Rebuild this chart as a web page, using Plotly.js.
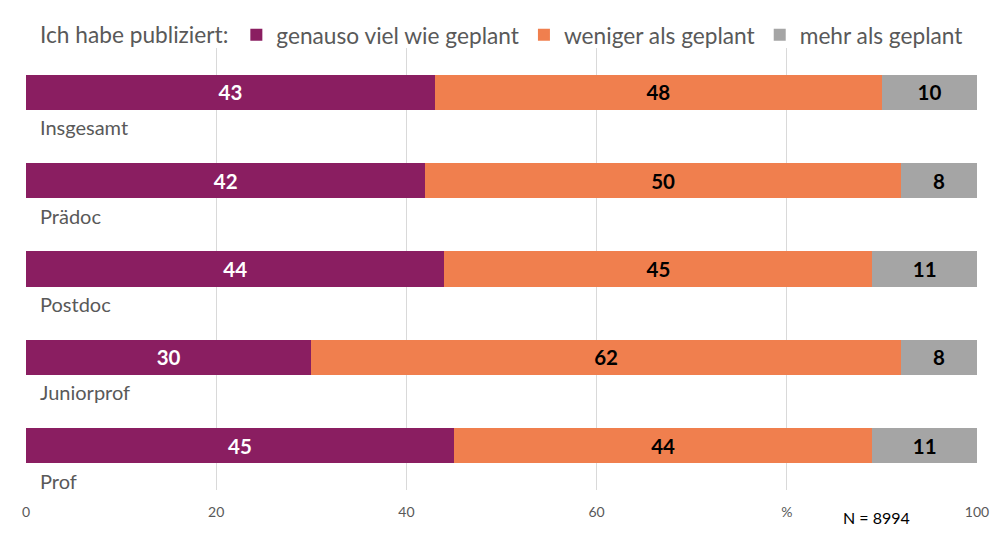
<!DOCTYPE html>
<html>
<head>
<meta charset="utf-8">
<script src="https://cdn.plot.ly/plotly-3.0.1.min.js"></script>
<style>html,body{margin:0;padding:0;background:#fff;}#chart{width:1000px;height:539px;}</style>
</head>
<body>
<div id="chart"></div>
<script>
var categories = ["Insgesamt", "Prädoc", "Postdoc", "Juniorprof", "Prof"];
var seriesNames = ["genauso viel wie geplant", "weniger als geplant", "mehr als geplant"];
var genausoValues = [43, 42, 44, 30, 45];
var wenigerValues = [47, 50, 45, 62, 44];
var mehrValues = [10, 8, 11, 8, 11];
var genausoLabels = ["43", "42", "44", "30", "45"];
var wenigerLabels = ["48", "50", "45", "62", "44"];
var mehrLabels = ["10", "8", "11", "8", "11"];
var tickValues = [0, 20, 40, 60, 80, 100];
var tickLabels = ["0", "20", "40", "60", "%", "100"];
var legendTitle = "Ich habe publiziert:";
var noteText = "N = 8994";

var FONT = "Lato, 'Open Sans', sans-serif";
var colors = ["#8A1E61", "#F07F4E", "#A5A5A5"];
var textColors = ["#FFFFFF", "#000000", "#000000"];
var vals = [genausoValues, wenigerValues, mehrValues];
var labs = [genausoLabels, wenigerLabels, mehrLabels];

var traces = vals.map(function (v, i) {
  return {
    type: "bar",
    orientation: "h",
    name: seriesNames[i],
    y: categories,
    x: v,
    text: labs[i],
    texttemplate: "%{text}",
    textposition: "inside",
    insidetextanchor: "middle",
    constraintext: "none",
    textangle: 0,
    textfont: {family: FONT, size: 20.5, color: textColors[i], weight: "bold"},
    marker: {color: colors[i], line: {width: 0}},
    width: 0.4,
    hoverinfo: "skip"
  };
});

var annotations = categories.map(function (c) {
  return {
    xref: "paper", yref: "y", x: 0, y: c,
    xanchor: "left", yanchor: "middle",
    xshift: 12, yshift: -35,
    text: c, showarrow: false,
    font: {family: FONT, size: 20, color: "#595959"}
  };
});
annotations.push({
  xref: "paper", yref: "paper", x: (876 - 26) / 951, y: 0,
  xanchor: "center", yanchor: "middle", yshift: -27,
  text: noteText, showarrow: false,
  font: {family: FONT, size: 16, color: "#000000"}
});

var layout = {
  width: 1000, height: 539,
  margin: {l: 26, r: 23, t: 48, b: 49, pad: 0, autoexpand: false},
  paper_bgcolor: "#FFFFFF", plot_bgcolor: "#FFFFFF",
  barmode: "stack",
  bargap: 0.6,
  font: {family: FONT},
  showlegend: true,
  legend: {
    orientation: "h",
    xref: "container", yref: "container",
    x: 0.038, xanchor: "left",
    y: 1 - 35 / 539, yanchor: "middle",
    title: {text: legendTitle, side: "left", font: {family: FONT, size: 22.7, color: "#595959"}},
    font: {family: FONT, size: 22.7, color: "#595959"},
    traceorder: "normal",
    itemclick: false, itemdoubleclick: false,
    bgcolor: "rgba(0,0,0,0)"
  },
  xaxis: {
    range: [0, 100],
    tickvals: tickValues,
    ticktext: tickLabels,
    showgrid: true,
    gridcolor: "#D9D9D9",
    gridwidth: 1,
    zeroline: false,
    showline: false,
    ticks: "",
    ticklabelstandoff: 12,
    tickfont: {family: FONT, size: 14, color: "#595959"},
    fixedrange: true
  },
  yaxis: {
    type: "category",
    autorange: false,
    range: [4.5, -0.5],
    showticklabels: false,
    showgrid: false,
    zeroline: false,
    showline: false,
    ticks: "",
    fixedrange: true
  },
  annotations: annotations
};

Plotly.newPlot("chart", traces, layout, {displayModeBar: false, staticPlot: true});
</script>
</body>
</html>
